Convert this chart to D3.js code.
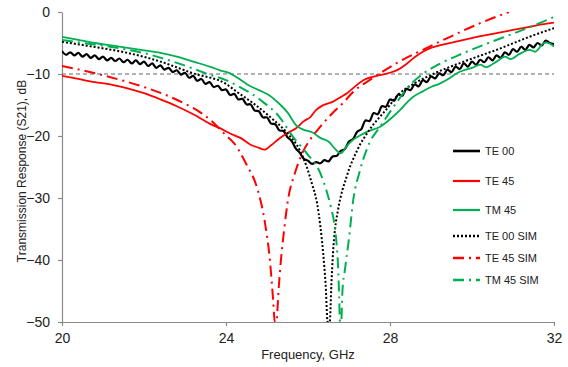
<meta charset="utf-8" />
<script src="https://d3js.org/d3.v7.min.js"></script>
<style>
  body { margin: 0; background: #fff; }
  text { font-family: 'Liberation Sans', Arial, sans-serif; }
</style>
<div id="chart"></div>
<script>
  // frequency (GHz), S21 (dB)
  const te00 = [
    [20.0,-6.3],[20.1,-6.9],[20.2,-6.5],[20.3,-7.0],[20.4,-6.6],[20.5,-7.2],[20.6,-6.8],[20.7,-7.4],[20.8,-7.0],[20.9,-7.6],
    [21.0,-7.2],[21.1,-7.8],[21.2,-7.4],[21.3,-7.9],[21.4,-7.5],[21.5,-8.1],[21.6,-7.7],[21.7,-8.3],[21.8,-7.8],[21.9,-8.4],
    [22.0,-8.0],[22.1,-8.7],[22.2,-8.3],[22.3,-9.0],[22.4,-8.6],[22.5,-9.3],[22.6,-9.0],[22.7,-9.7],[22.8,-9.4],[22.9,-10.1],
    [23.0,-9.8],[23.1,-10.6],[23.2,-10.3],[23.3,-11.1],[23.4,-10.8],[23.5,-11.6],[23.6,-11.3],[23.7,-12.1],[23.8,-11.9],[23.9,-12.6],
    [24.0,-12.5],[24.1,-13.4],[24.2,-13.2],[24.3,-14.1],[24.4,-14.0],[24.5,-14.9],[24.6,-14.9],[24.7,-15.9],[24.8,-16.0],[24.9,-17.0],
    [25.0,-17.0],[25.1,-18.0],[25.2,-18.1],[25.3,-19.1],[25.4,-19.2],[25.5,-20.2],[25.6,-20.8],[25.7,-22.0],[25.8,-22.7],[25.9,-23.7],
    [26.0,-24.0],[26.1,-24.5],[26.2,-24.2],[26.3,-24.4],[26.4,-23.9],[26.5,-24.1],[26.6,-23.3],[26.7,-23.2],[26.8,-22.4],[26.9,-22.1],
    [27.0,-20.9],[27.1,-20.5],[27.2,-19.3],[27.3,-18.9],[27.4,-17.5],[27.5,-17.6],[27.6,-16.3],[27.7,-16.5],[27.8,-15.2],[27.9,-15.3],
    [28.0,-14.1],[28.1,-14.3],[28.2,-13.3],[28.3,-13.5],[28.4,-12.4],[28.5,-12.6],[28.6,-11.7],[28.7,-12.0],[28.8,-11.0],[28.9,-11.3],
    [29.0,-10.4],[29.1,-10.7],[29.2,-9.9],[29.3,-10.2],[29.4,-9.3],[29.5,-9.7],[29.6,-8.8],[29.7,-9.2],[29.8,-8.3],[29.9,-8.8],
    [30.0,-8.0],[30.1,-8.5],[30.2,-7.7],[30.3,-8.1],[30.4,-7.3],[30.5,-7.8],[30.6,-7.0],[30.7,-7.4],[30.8,-6.5],[30.9,-6.9],
    [31.0,-6.0],[31.1,-6.4],[31.2,-5.6],[31.3,-6.1],[31.4,-5.3],[31.5,-5.7],[31.6,-5.0],[31.7,-5.4],[31.8,-4.6],[31.9,-5.0],
    [32.0,-5.2]
  ];
  const te45 = [
    [20.0,-10.3],[20.4,-10.8],[20.8,-11.3],[21.2,-11.7],[21.6,-12.3],[22.0,-13.1],[22.4,-14.1],[22.8,-15.2],[23.2,-16.5],
    [23.6,-18.0],[23.9,-18.9],[24.1,-19.6],[24.35,-20.3],[24.6,-21.4],[24.8,-21.9],[24.95,-22.2],[25.1,-21.5],[25.3,-20.4],
    [25.5,-19.5],[25.7,-18.8],[25.9,-17.6],[26.05,-17.0],[26.2,-15.8],[26.35,-15.1],[26.6,-14.5],[26.8,-13.7],[26.95,-13.1],
    [27.15,-12.0],[27.35,-11.0],[27.55,-10.5],[27.75,-10.2],[28.0,-9.8],[28.2,-9.3],[28.4,-8.4],[28.6,-7.3],[28.8,-6.4],
    [29.0,-5.8],[29.4,-5.1],[29.8,-4.5],[30.2,-3.9],[30.6,-3.4],[31.0,-2.9],[31.4,-2.4],[31.7,-2.0],[32.0,-1.7]
  ];
  const tm45 = [
    [20.0,-4.0],[20.4,-4.5],[20.8,-5.0],[21.2,-5.4],[21.6,-5.8],[22.0,-6.2],[22.4,-6.6],[22.8,-7.2],[23.2,-8.0],[23.6,-8.8],
    [23.85,-9.4],[24.1,-9.9],[24.3,-10.7],[24.5,-11.6],[24.7,-12.3],[24.9,-12.9],[25.07,-13.5],[25.3,-14.8],[25.5,-16.2],
    [25.73,-18.4],[25.9,-19.0],[26.1,-19.4],[26.3,-20.3],[26.5,-20.9],[26.65,-22.0],[26.8,-22.8],[26.95,-21.6],[27.1,-20.6],
    [27.3,-19.8],[27.45,-19.3],[27.76,-18.5],[28.07,-16.9],[28.25,-15.8],[28.4,-14.7],[28.56,-13.7],[28.8,-12.8],[29.0,-12.1],
    [29.2,-11.6],[29.4,-10.9],[29.6,-10.0],[29.8,-9.4],[30.0,-9.0],[30.2,-8.5],[30.35,-8.9],[30.6,-8.0],[30.8,-7.2],
    [30.95,-7.6],[31.15,-6.8],[31.4,-6.1],[31.55,-6.4],[31.75,-5.0],[31.9,-5.1],[32.0,-5.6]
  ];
  const te00Sim = [
    [20.0,-4.8],[20.76,-5.6],[21.6,-6.6],[22.4,-8.0],[23.2,-9.9],[24.0,-11.6],[24.27,-12.9],[24.66,-14.7],[25.07,-16.9],
    [25.49,-19.5],[25.8,-22.3],[25.97,-25.0],[26.1,-27.8],[26.22,-30.8],[26.3,-34.5],[26.37,-38.9],[26.43,-44],[26.48,-50],
    [26.53,-50],[26.57,-44],[26.61,-38.9],[26.66,-35],[26.73,-32.0],[26.95,-26.4],[27.2,-22.3],[27.5,-19.0],[27.9,-15.8],
    [28.24,-13.1],[28.6,-11.5],[29.05,-10.0],[29.8,-8.0],[30.6,-6.1],[31.4,-4.0],[32.0,-2.6]
  ];
  const te45Sim = [
    [20.0,-8.7],[20.5,-9.4],[21.0,-10.2],[21.5,-11.1],[22.0,-12.1],[22.5,-13.3],[23.0,-14.8],[23.4,-16.3],[23.7,-17.9],
    [24.0,-19.9],[24.2,-21.2],[24.5,-24.6],[24.75,-28.2],[24.95,-34],[25.07,-40],[25.15,-46.5],[25.19,-50],[25.23,-50],
    [25.28,-45],[25.34,-40],[25.42,-35],[25.52,-30],[25.68,-26],[25.88,-22.5],[26.05,-20.6],[26.3,-18.5],[26.6,-16.3],
    [26.85,-14.7],[27.1,-12.9],[27.5,-11.0],[27.9,-9.3],[28.2,-8.1],[28.8,-6.1],[29.4,-4.2],[30.2,-1.8],[30.9,0]
  ];
  const tm45Sim = [
    [20.0,-4.5],[20.5,-5.0],[21.17,-5.6],[21.98,-6.6],[22.8,-8.2],[23.6,-10.1],[24.0,-11.0],[24.34,-12.1],[24.9,-14.5],
    [25.3,-16.9],[25.63,-20.1],[25.97,-22.8],[26.3,-26.0],[26.45,-28.8],[26.56,-31.5],[26.66,-35],[26.71,-38.5],[26.74,-42],
    [26.76,-46],[26.78,-50],[26.81,-50],[26.84,-45],[26.9,-41.6],[27.0,-36.5],[27.1,-30.5],[27.27,-25.5],[27.5,-21.1],
    [27.76,-18.5],[28.17,-14.5],[28.5,-11.7],[28.8,-10.0],[29.2,-8.4],[29.8,-6.6],[30.4,-5.0],[31.0,-3.5],[31.5,-2.2],[32.0,-0.8]
  ];
  const xTicks = [20, 24, 28, 32];
  const yTicks = [0, -10, -20, -30, -40, -50];
  const refLevel = -10;

  const series = [
    { name: 'TE 00', data: te00, color: '#000000', dash: null, w: 2.2, smooth: true },
    { name: 'TE 45', data: te45, color: '#ff0000', dash: null, w: 1.8, smooth: true },
    { name: 'TM 45', data: tm45, color: '#00b050', dash: null, w: 1.8, smooth: true },
    { name: 'TE 00 SIM', data: te00Sim, color: '#000000', dash: '2,2', w: 2, smooth: false },
    { name: 'TE 45 SIM', data: te45Sim, color: '#ff0000', dash: '11,5,2,5', w: 2, smooth: false },
    { name: 'TM 45 SIM', data: tm45Sim, color: '#00b050', dash: '11,5,2,5', w: 2, smooth: false },
  ];

  const W = 568, H = 367;
  const svg = d3.select('#chart').append('svg').attr('width', W).attr('height', H);

  const x = d3.scaleLinear().domain([20, 32]).range([62, 554]);
  const y = d3.scaleLinear().domain([-50, 0]).range([322, 12]);

  svg.append('defs').append('clipPath').attr('id', 'plot')
    .append('rect').attr('x', x(20)).attr('y', y(0))
    .attr('width', x(32) - x(20)).attr('height', y(-50) - y(0));

  // axes
  const yAxis = svg.append('g').attr('transform', `translate(${x(20)},0)`)
    .call(d3.axisLeft(y).tickValues(yTicks).tickSize(4).tickSizeOuter(0).tickPadding(8));
  const xAxis = svg.append('g').attr('transform', `translate(0,${y(-50)})`)
    .call(d3.axisBottom(x).tickValues(xTicks).tickSize(4).tickSizeOuter(0).tickPadding(7));
  [xAxis, yAxis].forEach(a => {
    a.selectAll('path,line').attr('stroke', '#8a8a8a').attr('stroke-width', 1.2);
    a.selectAll('text').attr('font-size', 14).attr('fill', '#222')
      .style('font-family', "'Liberation Sans', Arial, sans-serif");
  });

  // -10 dB reference
  svg.append('line')
    .attr('x1', x(20)).attr('x2', x(32))
    .attr('y1', y(refLevel)).attr('y2', y(refLevel))
    .attr('stroke', '#666').attr('stroke-width', 1.2).attr('stroke-dasharray', '4,3');

  const plot = svg.append('g').attr('clip-path', 'url(#plot)');
  series.forEach(s => {
    const line = d3.line()
      .x(d => x(d[0])).y(d => y(d[1]))
      .curve(s.smooth ? d3.curveCatmullRom.alpha(0.5) : d3.curveMonotoneX);
    plot.append('path').datum(s.data)
      .attr('d', line)
      .attr('fill', 'none')
      .attr('stroke', s.color)
      .attr('stroke-width', s.w)
      .attr('stroke-dasharray', s.dash);
  });

  // legend
  const legendY = [151, 181, 210, 236, 258, 280];
  const lg = svg.append('g');
  series.forEach((s, i) => {
    lg.append('line')
      .attr('x1', 453).attr('x2', 480)
      .attr('y1', legendY[i]).attr('y2', legendY[i])
      .attr('stroke', s.color).attr('stroke-width', s.w + 0.4)
      .attr('stroke-dasharray', s.dash);
    lg.append('text')
      .attr('x', 485).attr('y', legendY[i]).attr('dy', '0.35em')
      .attr('font-size', 11).attr('fill', '#222').text(s.name);
  });

  // axis titles
  svg.append('text')
    .attr('transform', `translate(26,${(y(0) + y(-50)) / 2 + 4}) rotate(-90)`)
    .attr('text-anchor', 'middle').attr('font-size', 12).attr('fill', '#222')
    .text('Transmission Response (S21), dB');
  svg.append('text')
    .attr('x', 308).attr('y', 359)
    .attr('text-anchor', 'middle').attr('font-size', 13).attr('fill', '#222')
    .text('Frequency, GHz');
</script>
